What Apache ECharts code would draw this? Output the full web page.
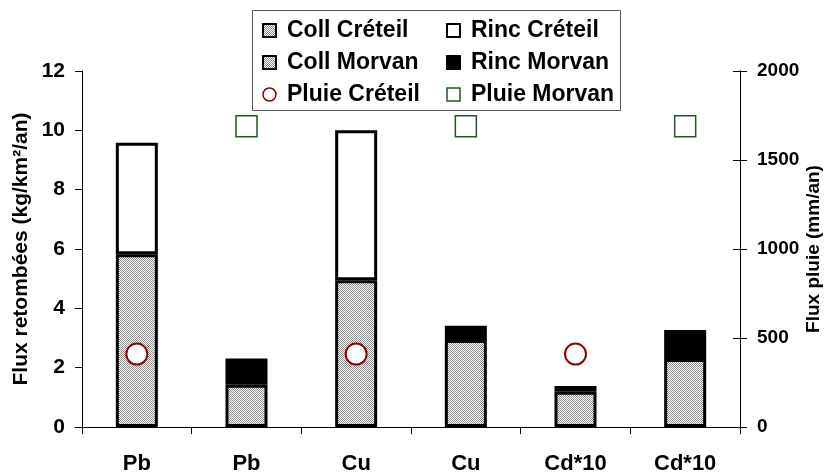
<!DOCTYPE html>
<html>
<head>
<meta charset="utf-8">
<script src="https://cdn.jsdelivr.net/npm/echarts@6/dist/echarts.min.js"></script>
<style>
  html, body { margin: 0; padding: 0; background: #fff; }
  #chart { width: 825px; height: 474px; }
</style>
</head>
<body>
<div id="chart"></div>
<script>
  // categories and values
  var categories = ['Pb', 'Pb', 'Cu', 'Cu', 'Cd*10', 'Cd*10'];
  var collCreteil = [5.82, '-', 4.95, '-', 1.19, '-'];
  var rincCreteil = [3.76, '-', 5.05, '-', 0.19, '-'];
  var collMorvan = ['-', 1.42, '-', 2.93, '-', 2.29];
  var rincMorvan = ['-', 0.89, '-', 0.48, '-', 0.98];
  var pluieCreteil = [410, '-', 410, '-', 410, '-'];
  var pluieMorvan = ['-', 1690, '-', 1690, '-', 1690];

  var font = '"Liberation Sans", Arial, sans-serif';

  // grey dotted fill like the Excel pattern
  var cv = document.createElement('canvas');
  cv.width = 2;
  cv.height = 2;
  var cx = cv.getContext('2d');
  cx.fillStyle = '#ffffff';
  cx.fillRect(0, 0, 2, 2);
  cx.fillStyle = '#8c8c8c';
  cx.fillRect(0, 0, 1, 1);
  cx.fillRect(1, 1, 1, 1);
  var dotted = { image: cv, repeat: 'repeat' };

  var myChart = echarts.init(document.getElementById('chart'));

  var legendText = {
    fontFamily: font, fontWeight: 'bold', fontSize: 23, color: '#000',
    padding: [0, 0, 0, 6]
  };

  var option = {
    animation: false,
    textStyle: { fontFamily: font },
    grid: { left: 82, right: 85, top: 71, bottom: 47, outerBoundsMode: 'none' },
    graphic: [{
      type: 'rect',
      z: 0,
      shape: { x: 252.5, y: 10.5, width: 368, height: 100 },
      style: { fill: '#fff', stroke: '#555', lineWidth: 1 }
    }],
    legend: [{
      orient: 'vertical',
      left: 262,
      top: 19,
      padding: 0,
      itemGap: 9,
      itemWidth: 13,
      itemHeight: 13,
      textStyle: legendText,
      data: [
        { name: 'Coll Créteil', icon: 'rect' },
        { name: 'Coll Morvan', icon: 'rect' },
        { name: 'Pluie Créteil', icon: 'circle', itemStyle: { borderWidth: 1.5 } }
      ]
    }, {
      orient: 'vertical',
      left: 446,
      top: 19,
      padding: 0,
      itemGap: 9,
      itemWidth: 13,
      itemHeight: 13,
      textStyle: legendText,
      data: [
        { name: 'Rinc Créteil', icon: 'rect' },
        { name: 'Rinc Morvan', icon: 'rect' },
        { name: 'Pluie Morvan', icon: 'rect', itemStyle: { borderWidth: 1.5 } }
      ]
    }],
    xAxis: {
      type: 'category',
      data: categories,
      axisLine: { lineStyle: { color: '#000', width: 1 } },
      axisTick: { show: true, length: 7, lineStyle: { color: '#000' } },
      axisLabel: {
        margin: 26,
        fontFamily: font,
        fontWeight: 'bold',
        fontSize: 22,
        color: '#000'
      }
    },
    yAxis: [{
      type: 'value',
      min: 0,
      max: 12,
      interval: 2,
      name: 'Flux retombées (kg/km²/an)',
      nameLocation: 'middle',
      nameRotate: 90,
      nameGap: 50,
      nameMoveOverlap: false,
      nameTextStyle: { fontFamily: font, fontWeight: 'bold', fontSize: 21, color: '#000' },
      splitLine: { show: false },
      axisLine: { show: true, lineStyle: { color: '#000' } },
      axisTick: { show: true, length: 7, lineStyle: { color: '#000' } },
      axisLabel: { margin: 17, fontFamily: font, fontWeight: 'bold', fontSize: 21, color: '#000' }
    }, {
      type: 'value',
      position: 'right',
      min: 0,
      max: 2000,
      interval: 500,
      name: 'Flux pluie (mm/an)',
      nameLocation: 'middle',
      nameRotate: 90,
      nameGap: 64,
      nameMoveOverlap: false,
      nameTextStyle: { fontFamily: font, fontWeight: 'bold', fontSize: 19, color: '#000' },
      splitLine: { show: false },
      axisLine: { show: true, lineStyle: { color: '#000' } },
      axisTick: { show: true, length: 7, lineStyle: { color: '#000' } },
      axisLabel: {
        margin: 17, fontFamily: font, fontWeight: 'bold', fontSize: 19, color: '#000',
        formatter: function (v) { return String(v); }
      }
    }, {
      // inner half of the crossing ticks on the right axis
      type: 'value',
      position: 'right',
      offset: 0,
      min: 0,
      max: 2000,
      interval: 500,
      splitLine: { show: false },
      axisLine: { show: true, lineStyle: { color: '#000' } },
      axisTick: { show: true, inside: true, length: 7, lineStyle: { color: '#000' } },
      axisLabel: { show: false }
    }],
    series: [{
      name: 'Coll Créteil',
      type: 'bar',
      stack: 'flux',
      barWidth: 42,
      itemStyle: { color: dotted, borderColor: '#000', borderWidth: 3 },
      data: collCreteil
    }, {
      name: 'Rinc Créteil',
      type: 'bar',
      stack: 'flux',
      barWidth: 42,
      itemStyle: { color: '#fff', borderColor: '#000', borderWidth: 3 },
      data: rincCreteil
    }, {
      name: 'Coll Morvan',
      type: 'bar',
      stack: 'flux',
      barWidth: 42,
      itemStyle: { color: dotted, borderColor: '#000', borderWidth: 3 },
      data: collMorvan
    }, {
      name: 'Rinc Morvan',
      type: 'bar',
      stack: 'flux',
      barWidth: 42,
      itemStyle: { color: '#000', borderColor: '#000', borderWidth: 3 },
      data: rincMorvan
    }, {
      name: 'Pluie Créteil',
      type: 'scatter',
      yAxisIndex: 1,
      symbol: 'circle',
      symbolSize: 21,
      z: 5,
      itemStyle: { color: '#fff', borderColor: '#8b0000', borderWidth: 2, opacity: 1 },
      data: pluieCreteil
    }, {
      name: 'Pluie Morvan',
      type: 'scatter',
      yAxisIndex: 1,
      symbol: 'rect',
      symbolSize: 21,
      z: 5,
      itemStyle: { color: '#fff', borderColor: '#1f5a1f', borderWidth: 1.5, opacity: 1 },
      data: pluieMorvan
    }]
  };

  myChart.setOption(option);
</script>
</body>
</html>
